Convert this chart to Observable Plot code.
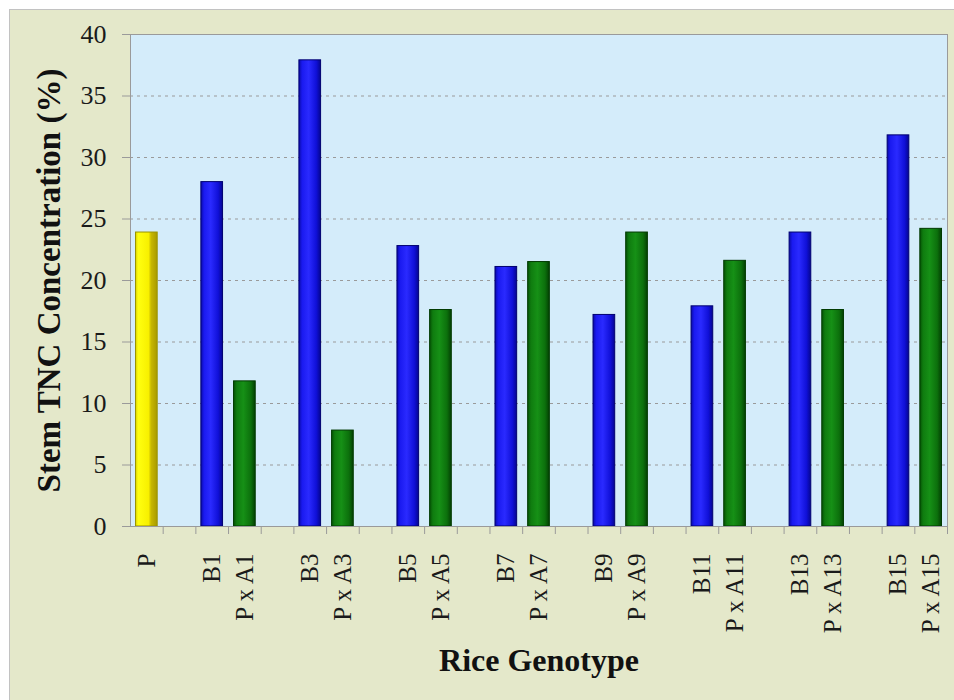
<!DOCTYPE html>
<html><head><meta charset="utf-8">
<script src="https://cdn.jsdelivr.net/npm/d3@7"></script>
<script src="https://cdn.jsdelivr.net/npm/@observablehq/plot@0.6"></script>
<style>
body{margin:0;background:#fff;}
#wrap{position:relative;width:954px;height:700px;overflow:hidden;}
#bg{position:absolute;left:9px;top:9px;width:950px;height:700px;background:#e4e8ca;border-left:1px solid #c2c2c2;border-top:1px solid #c2c2c2;}
#chart{position:absolute;left:0;top:0;}
</style></head><body>
<div id="wrap"><div id="bg"></div><div id="chart"></div></div>
<script>
// Data
const genotypes = ["P","B1","P x A1","B3","P x A3","B5","P x A5","B7","P x A7","B9","P x A9","B11","P x A11","B13","P x A13","B15","P x A15"];
const tnc =       [23.9, 28.0, 11.8, 37.9, 7.8, 22.8, 17.6, 21.1, 21.5, 17.2, 23.9, 17.9, 21.6, 23.9, 17.6, 31.8, 24.2];
const groups =    ["P","B","PxA","B","PxA","B","PxA","B","PxA","B","PxA","B","PxA","B","PxA","B","PxA"];
// x slots, including empty spacer slots between pairs
const xSlots = ["P","·1","B1","P x A1","·2","B3","P x A3","·3","B5","P x A5","·4","B7","P x A7","·5","B9","P x A9","·6","B11","P x A11","·7","B13","P x A13","·8","B15","P x A15"];
const yTicks = [0,5,10,15,20,25,30,35,40];
const yTitle = "Stem TNC Concentration (%)";
const xTitle = "Rice Genotype";

const fills = {P: "url(#gY)", B: "url(#gB)", PxA: "url(#gG)"};
const strokes = {P: "#9a9400", B: "#000070", PxA: "#003a00"};
const data = genotypes.map((g, i) => ({g, v: tnc[i], grp: groups[i]}));

const W = 954, ML = 130, MR = 7;
const step = (W - ML - MR) / xSlots.length;

const defs = () => {
  const ns = "http://www.w3.org/2000/svg";
  const d = document.createElementNS(ns, "defs");
  const mk = (id, stops) => {
    const lg = document.createElementNS(ns, "linearGradient");
    lg.setAttribute("id", id); lg.setAttribute("x1", "0"); lg.setAttribute("x2", "1"); lg.setAttribute("y1", "0"); lg.setAttribute("y2", "0");
    stops.forEach(([o, c]) => { const s = document.createElementNS(ns, "stop"); s.setAttribute("offset", o); s.setAttribute("stop-color", c); lg.appendChild(s); });
    d.appendChild(lg);
  };
  mk("gB", [["0", "#0a0aa8"], ["0.15", "#1a1af0"], ["0.45", "#2a2aff"], ["0.8", "#1010d8"], ["1", "#050590"]]);
  mk("gG", [["0", "#055205"], ["0.15", "#0f7c0f"], ["0.45", "#169016"], ["0.8", "#0c700c"], ["1", "#034003"]]);
  mk("gY", [["0", "#d8d000"], ["0.12", "#ffff10"], ["0.6", "#f8f000"], ["0.72", "#c8b800"], ["1", "#a89a00"]]);
  return d;
};

const chart = Plot.plot({
  width: W,
  height: 700,
  marginLeft: ML,
  marginRight: MR,
  marginTop: 34,
  marginBottom: 174,
  style: {fontFamily: "'Liberation Serif','Times New Roman',serif", fontSize: "25px", color: "#1a1a1a", background: "transparent"},
  x: {domain: xSlots, padding: 0, round: false},
  y: {domain: [0, 40]},
  color: {type: "identity"},
  marks: [
    defs,
    Plot.frame({fill: "#d4ecfa", stroke: "#9a9a9a"}),
    Plot.gridY(yTicks.filter(t => t > 0 && t < 40), {stroke: "#9a9a9a", strokeOpacity: 1, strokeDasharray: "3,4"}),
    Plot.axisY(yTicks, {tickSize: 8, tickPadding: 16, fontSize: 26, stroke: "#9a9a9a", label: null}),
    Plot.axisX(xSlots, {tickSize: 8, dx: step / 2, tickFormat: () => "", stroke: "#9a9a9a", label: null}),
    Plot.axisX(xSlots, {tickSize: 0, tickPadding: 27, tickRotate: -90, fontSize: 25, tickFormat: d => d.startsWith("·") ? "" : d, label: null}),
    Plot.barY(data, {x: "g", y: "v", fill: d => fills[d.grp], stroke: d => strokes[d.grp], strokeWidth: 1, insetLeft: 5.5, insetRight: 5.5}),
    Plot.ruleY([0], {stroke: "#9a9a9a"}),
    Plot.text([yTitle], {text: d => d, frameAnchor: "left", textAnchor: "middle", rotate: -90, dx: -81, fontSize: 33, fontWeight: "bold", fill: "#111"}),
    Plot.text([xTitle], {text: d => d, frameAnchor: "bottom", dy: 144, fontSize: 32, fontWeight: "bold", fill: "#111"})
  ]
});
document.getElementById("chart").appendChild(chart);
</script>
</body></html>
